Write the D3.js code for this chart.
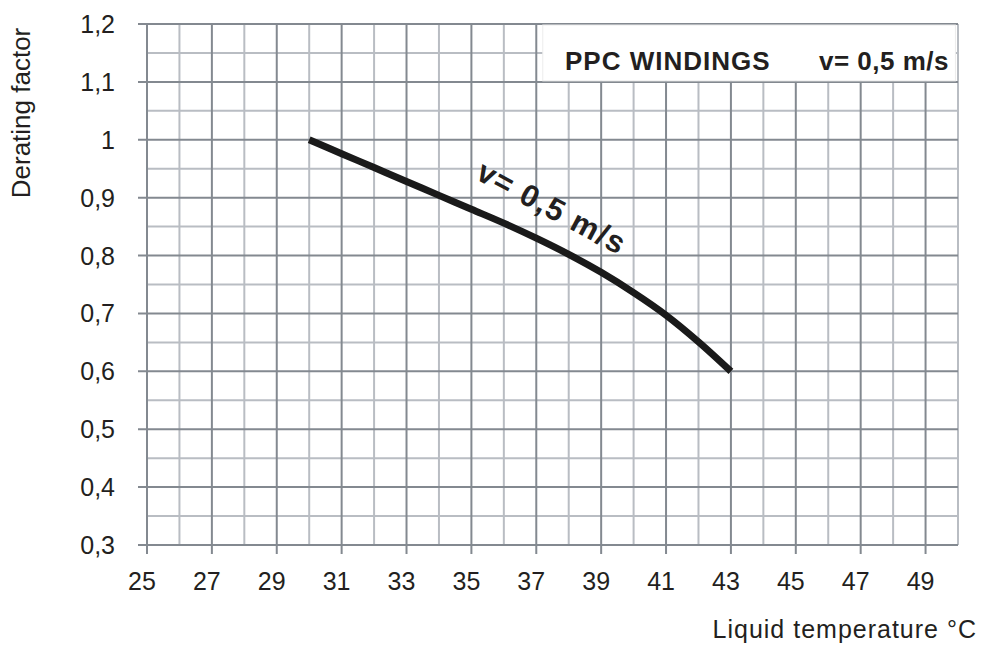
<!DOCTYPE html>
<html>
<head>
<meta charset="utf-8">
<script src="https://cdn.jsdelivr.net/npm/d3@7"></script>
<style>
  body { margin: 0; background: #fff; }
  text { font-family: "Liberation Sans", Arial, sans-serif; fill: #231f20; }
</style>
</head>
<body>
<div id="graphic"></div>
<script>
// data
const temps = [30, 31, 32, 33, 34, 35, 36, 37, 38, 39, 40, 41, 42, 43];
const factors = [1.0, 0.976, 0.952, 0.928, 0.904, 0.880, 0.856, 0.830, 0.802, 0.771, 0.736, 0.697, 0.651, 0.600];

// tick labels
const xTicks = [25, 27, 29, 31, 33, 35, 37, 39, 41, 43, 45, 47, 49];
const yTicks = [0.3, 0.4, 0.5, 0.6, 0.7, 0.8, 0.9, 1.0, 1.1, 1.2];
const xMinor = [26, 28, 30, 32, 34, 36, 38, 40, 42, 44, 46, 48, 50];
const yMinor = [0.35, 0.45, 0.55, 0.65, 0.75, 0.85, 0.95, 1.05, 1.15];

const W = 981, H = 646;
const margin = { top: 24, left: 147, right: 23, bottom: 101 };

const svg = d3.select("#graphic").append("svg")
  .attr("width", W)
  .attr("height", H);

const x = d3.scaleLinear().domain([25, 50]).range([margin.left, W - margin.right]);
const y = d3.scaleLinear().domain([0.3, 1.2]).range([H - margin.bottom, margin.top]);

const fmt = d => String(+d.toFixed(1)).replace(".", ",");

// minor grid (lighter)
svg.append("g").selectAll("line")
  .data(xMinor).enter().append("line")
  .attr("x1", d => x(d)).attr("x2", d => x(d))
  .attr("y1", y(0.3)).attr("y2", y(1.2))
  .attr("stroke", "#b9bdc3").attr("stroke-width", 2);

svg.append("g").selectAll("line")
  .data(yMinor).enter().append("line")
  .attr("y1", d => y(d)).attr("y2", d => y(d))
  .attr("x1", x(25)).attr("x2", x(50))
  .attr("stroke", "#b9bdc3").attr("stroke-width", 2);

// major grid, extending out as ticks
svg.append("g").selectAll("line")
  .data(yTicks).enter().append("line")
  .attr("y1", d => y(d)).attr("y2", d => y(d))
  .attr("x1", x(25) - 9).attr("x2", x(50))
  .attr("stroke", "#838990").attr("stroke-width", 2);

svg.append("g").selectAll("line")
  .data(xTicks).enter().append("line")
  .attr("x1", d => x(d)).attr("x2", d => x(d))
  .attr("y1", y(1.2)).attr("y2", y(0.3) + 9)
  .attr("stroke", "#838990").attr("stroke-width", 2);

// tick labels
svg.append("g").selectAll("text")
  .data(yTicks).enter().append("text")
  .attr("x", 115)
  .attr("y", d => y(d))
  .attr("dy", "0.36em")
  .attr("text-anchor", "end")
  .style("font-size", "25px")
  .text(fmt);

svg.append("g").selectAll("text")
  .data(xTicks).enter().append("text")
  .attr("x", d => x(d) - 5)
  .attr("y", 590)
  .attr("text-anchor", "middle")
  .style("font-size", "25px")
  .text(d => d);

// axis titles
svg.append("text")
  .attr("transform", "translate(30,113) rotate(-90)")
  .attr("text-anchor", "middle")
  .style("font-size", "26px")
  .text("Derating factor");

svg.append("text")
  .attr("x", 977)
  .attr("y", 638)
  .attr("text-anchor", "end")
  .style("font-size", "25px")
  .style("letter-spacing", "1px")
  .text("Liquid temperature °C");

// legend box
svg.append("rect")
  .attr("x", x(37.2)).attr("y", y(1.2) + 1)
  .attr("width", x(49.92) - x(37.2)).attr("height", y(1.1) - y(1.2) - 2)
  .attr("fill", "#fff")
  .attr("stroke", "#ececec").attr("stroke-width", 1);

svg.append("text")
  .attr("x", 565).attr("y", 70)
  .style("font-size", "26px").style("font-weight", "bold")
  .style("letter-spacing", "1px")
  .text("PPC WINDINGS");

svg.append("text")
  .attr("x", 949).attr("y", 70)
  .attr("text-anchor", "end")
  .style("font-size", "26px").style("font-weight", "bold")
  .style("letter-spacing", "0.5px")
  .text("v= 0,5 m/s");

// curve
const line = d3.line()
  .x((d, i) => x(temps[i]))
  .y(d => y(d))
  .curve(d3.curveCatmullRom);

svg.append("path")
  .datum(factors)
  .attr("d", line)
  .attr("fill", "none")
  .attr("stroke", "#1a1a1a")
  .attr("stroke-width", 7);

// label along curve
svg.append("text")
  .attr("transform", "translate(547,217) rotate(28)")
  .attr("text-anchor", "middle")
  .style("font-size", "31px").style("font-weight", "bold")
  .style("letter-spacing", "1.5px")
  .text("v= 0,5 m/s");
</script>
</body>
</html>
